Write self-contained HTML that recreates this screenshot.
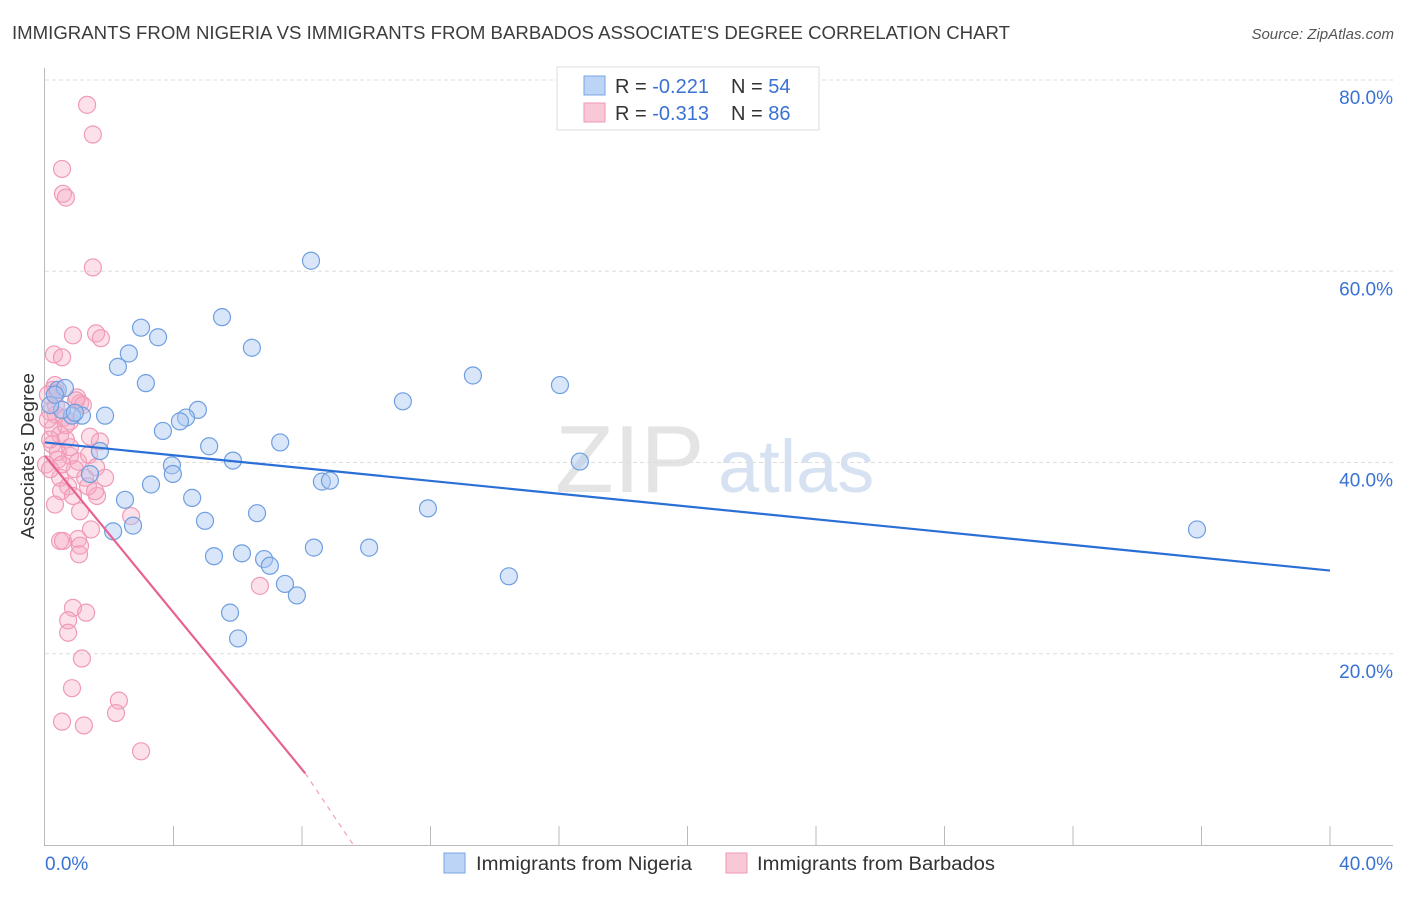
<!DOCTYPE html>
<html><head><meta charset="utf-8"><style>
body{margin:0;background:#fff;font-family:"Liberation Sans",sans-serif;}
svg text{font-family:"Liberation Sans",sans-serif;}
</style></head><body>
<svg id="chart" width="1406" height="892" xmlns="http://www.w3.org/2000/svg">
<text x="12" y="39" font-size="18" fill="#3c3c3c" textLength="998" lengthAdjust="spacingAndGlyphs">IMMIGRANTS FROM NIGERIA VS IMMIGRANTS FROM BARBADOS ASSOCIATE'S DEGREE CORRELATION CHART</text>
<text x="1394" y="39" font-size="15" fill="#555" font-style="italic" text-anchor="end">Source: ZipAtlas.com</text>
<text transform="translate(34,456) rotate(-90)" font-size="18" fill="#333" text-anchor="middle" textLength="166" lengthAdjust="spacingAndGlyphs">Associate's Degree</text>
<g>
<text x="555" y="492" font-size="96" fill="#e4e4e4" font-family="Liberation Serif,serif">ZIP</text>
<text x="718" y="492" font-size="74" fill="#d6e2f2">atlas</text>
</g>
<g id="grid"></g><g id="axes"></g><g id="pts"></g><g id="trend"></g>
<g>
<rect x="557" y="67" width="262" height="63" fill="#fff" stroke="#ddd"/>
<rect x="584" y="76" width="21" height="19" fill="#bcd4f6" stroke="#7aa6e6"/>
<rect x="584" y="103" width="21" height="19" fill="#f9c8d6" stroke="#ef9ab5"/>
<text x="615" y="93" font-size="20" fill="#333">R = <tspan fill="#3a72d4">-0.221</tspan><tspan x="731">N = </tspan><tspan fill="#3a72d4">54</tspan></text>
<text x="615" y="120" font-size="20" fill="#333">R = <tspan fill="#3a72d4">-0.313</tspan><tspan x="731">N = </tspan><tspan fill="#3a72d4">86</tspan></text>
</g>
<g>
<rect x="444" y="853" width="21" height="20" fill="#bcd4f6" stroke="#7aa6e6"/>
<text x="476" y="870" font-size="19" fill="#333" textLength="216" lengthAdjust="spacingAndGlyphs">Immigrants from Nigeria</text>
<rect x="726" y="853" width="21" height="20" fill="#f9c8d6" stroke="#ef9ab5"/>
<text x="757" y="870" font-size="19" fill="#333" textLength="238" lengthAdjust="spacingAndGlyphs">Immigrants from Barbados</text>
</g>
</svg>
<script>
const yTicks=[20,40,60,80];
const xTickLabels=["0.0%","40.0%"];
const nigeriaX=[8.28,5.51,2.99,3.52,6.44,2.61,2.27,3.14,13.32,16.03,11.14,4.76,4.39,4.20,3.67,1.87,1.15,0.84,0.40,0.53,0.62,7.32,5.11,5.85,1.71,3.95,3.98,16.65,3.30,4.58,2.49,8.62,8.87,11.92,6.60,4.98,2.74,2.12,6.13,5.26,6.82,7.00,8.37,10.09,14.44,7.47,7.84,5.76,6.01,35.86,1.40,0.16,0.31,0.93];
const nigeriaY=[61.1,55.2,54.1,53.1,52.0,51.4,50.0,48.3,49.1,48.1,46.4,45.5,44.7,44.3,43.3,44.9,44.9,44.9,47.6,45.5,47.8,42.1,41.7,40.2,41.2,39.7,38.8,40.1,37.7,36.3,36.1,38.0,38.1,35.2,34.7,33.9,33.4,32.8,30.5,30.2,29.9,29.2,31.1,31.1,28.1,27.3,26.1,24.3,21.6,33.0,38.8,46.0,47.1,45.2];
const barbadosX=[1.31,1.49,0.53,0.56,0.65,1.49,0.87,1.59,1.74,0.28,0.53,0.31,0.25,0.37,1.00,1.09,0.16,0.34,0.59,0.78,0.25,0.47,0.65,0.22,0.40,0.78,1.03,1.37,1.59,0.93,0.47,1.25,1.87,0.72,0.50,0.87,1.62,1.09,2.68,1.43,0.47,0.56,1.03,1.09,1.06,0.87,1.28,0.72,0.72,1.15,0.84,2.30,2.21,0.53,1.21,2.99,6.69,0.16,0.09,0.03,0.40,0.53,1.34,1.56,0.97,1.18,0.09,0.16,0.31,0.65,1.40,1.71,0.78,0.34];
const barbadosY=[77.4,74.3,70.7,68.1,67.7,60.4,53.3,53.5,53.0,51.3,51.0,48.1,47.6,47.3,46.8,46.2,45.3,45.0,44.7,44.3,43.6,42.9,42.4,41.9,41.1,40.7,40.1,40.8,39.5,39.3,38.4,38.4,38.4,37.5,37.0,36.5,36.5,34.9,34.4,33.0,31.8,31.8,32.0,31.3,30.4,24.8,24.3,23.5,22.2,19.5,16.4,15.1,13.8,12.9,12.5,9.8,27.1,42.4,44.5,39.8,40.3,39.8,37.5,37.0,46.5,46.0,47.1,39.3,35.6,43.9,42.7,42.2,41.6,46.0];
const nigeriaTrendX=[0,40], nigeriaTrendY=[42.1,28.7];
const barbadosTrendX=[0,8.1,9.6], barbadosTrendY=[40.7,7.5,0];
const NS="http://www.w3.org/2000/svg";
const X=v=>45+v/40*1285, Y=v=>845-v*9.5625;
function mk(p,t,a){const e=document.createElementNS(NS,t);for(const k in a)e.setAttribute(k,a[k]);document.getElementById(p).appendChild(e);return e;}
yTicks.forEach(t=>{
 const l=mk('grid','line',{x1:45,x2:1393,y1:Y(t),y2:Y(t),stroke:'#ddd','stroke-dasharray':'4,3'});
 
 
 const tx=mk('grid','text',{x:1393,y:Y(t)+24,'font-size':19,fill:'#3a72d4','text-anchor':'end'});
 tx.textContent=t.toFixed(1)+'%';
 
 
});
let a=mk('axes','line',{x1:44.5,x2:44.5,y1:68,y2:845,stroke:'#bbb'});


a=mk('axes','line',{x1:44,x2:1393,y1:845.5,y2:845.5,stroke:'#bbb'});


for(let i=1;i<=10;i++){const tk=mk('axes','line',{x1:X(i*4),x2:X(i*4),y1:826,y2:845,stroke:'#bbb'});
 
 }
let t0=mk('axes','text',{x:45,y:870,'font-size':19,fill:'#3a72d4'});t0.textContent=xTickLabels[0];


let t1=mk('axes','text',{x:1393,y:870,'font-size':19,fill:'#3a72d4','text-anchor':'end'});t1.textContent=xTickLabels[1];


barbadosX.forEach((x,i)=>{const c=mk('pts','circle',{cx:X(x),cy:Y(barbadosY[i]),r:8.5,fill:'rgba(246,170,195,0.35)',stroke:'#f09ab6','stroke-width':1.2});
 
 });
nigeriaX.forEach((x,i)=>{const c=mk('pts','circle',{cx:X(x),cy:Y(nigeriaY[i]),r:8.5,fill:'rgba(170,200,242,0.45)',stroke:'#6f9fe0','stroke-width':1.2});
 
 });
let l=mk('trend','line',{x1:X(nigeriaTrendX[0]),y1:Y(nigeriaTrendY[0]),x2:X(nigeriaTrendX[1]),y2:Y(nigeriaTrendY[1]),stroke:'#2a6fd6','stroke-width':2.2});


l=mk('trend','line',{x1:X(barbadosTrendX[0]),y1:Y(barbadosTrendY[0]),x2:X(barbadosTrendX[1]),y2:Y(barbadosTrendY[1]),stroke:'#e8628f','stroke-width':2.2});


l=mk('trend','line',{x1:X(barbadosTrendX[1]),y1:Y(barbadosTrendY[1]),x2:X(barbadosTrendX[2]),y2:Y(barbadosTrendY[2]),stroke:'#f0a0b8','stroke-width':1.2,'stroke-dasharray':'5,5'});


</script>
</body></html>
